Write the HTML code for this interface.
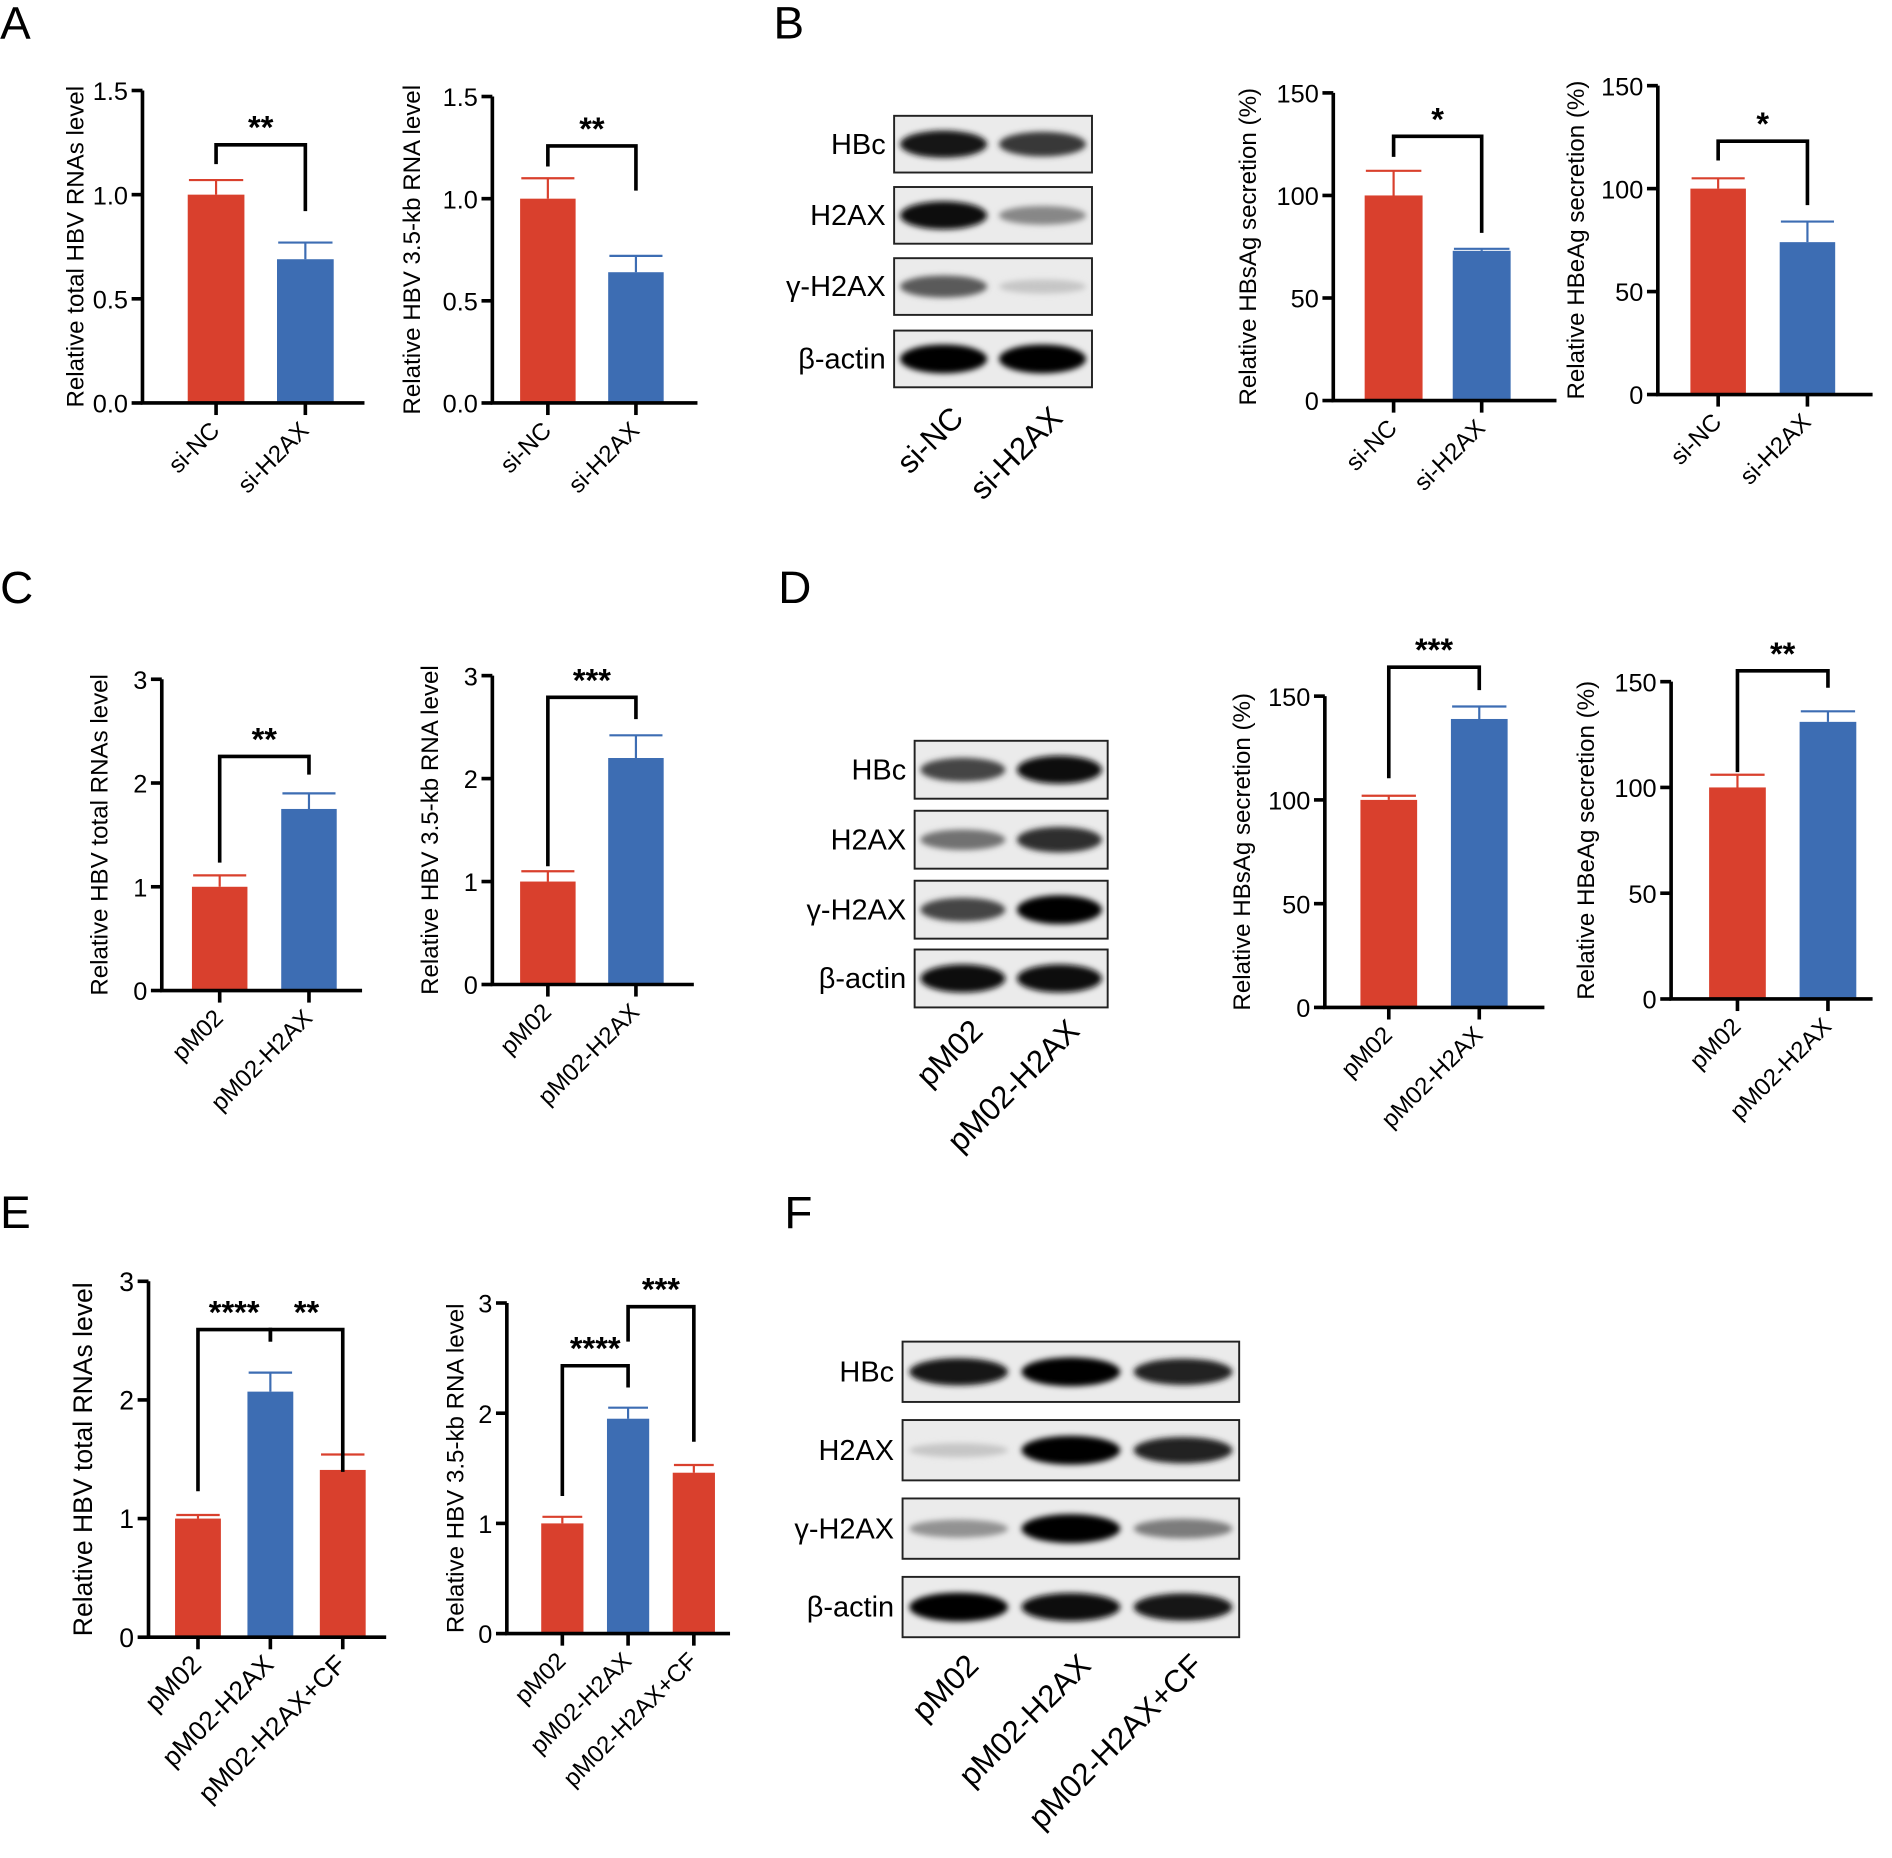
<!DOCTYPE html>
<html><head><meta charset="utf-8">
<style>
html,body{margin:0;padding:0;background:#fff;}
svg{display:block;}
text{font-family:"Liberation Sans",Arial,sans-serif;fill:#000;}
</style></head>
<body>
<svg id="fig" width="1892" height="1858" viewBox="0 0 1568 1540" xmlns="http://www.w3.org/2000/svg">
<defs>
<filter id="blur" x="-20%" y="-50%" width="140%" height="200%"><feGaussianBlur stdDeviation="2.5"/></filter>
</defs>
<g font-size="38">
<text x="0" y="32">A</text>
<text x="641" y="32">B</text>
<text x="0" y="500">C</text>
<text x="645" y="500">D</text>
<text x="0" y="1018">E</text>
<text x="650" y="1018">F</text>
</g>
</svg>
<script>
// ---- data ----
const catsSi = ["si-NC", "si-H2AX"];
const catsP = ["pM02", "pM02-H2AX"];
const catsE = ["pM02", "pM02-H2AX", "pM02-H2AX+CF"];
const valA1 = [1.0, 0.69];   const errA1 = [0.07, 0.08];
const valA2 = [1.0, 0.64];   const errA2 = [0.10, 0.08];
const valB1 = [100, 73];     const errB1 = [12, 1];
const valB2 = [100, 74];     const errB2 = [5, 10];
const valC1 = [1.0, 1.75];   const errC1 = [0.11, 0.15];
const valC2 = [1.0, 2.2];    const errC2 = [0.10, 0.22];
const valD1 = [100, 139];    const errD1 = [2, 6];
const valD2 = [100, 131];    const errD2 = [6, 5];
const valE1 = [1.0, 2.07, 1.41]; const errE1 = [0.03, 0.16, 0.13];
const valE2 = [1.0, 1.95, 1.46]; const errE2 = [0.06, 0.10, 0.07];
const ticks15 = ["0.0", "0.5", "1.0", "1.5"];
const ticks3 = ["0", "1", "2", "3"];
const ticks150 = ["0", "50", "100", "150"];
const blotRowsBA = ["HBc", "H2AX", "γ-H2AX", "β-actin"];
const bandB = [[0.9,0.75],[0.95,0.4],[0.6,0.12],[1,1]];
const bandD = [[0.7,0.95],[0.5,0.8],[0.7,1],[0.95,0.95]];
const bandF = [[0.9,1,0.85],[0.12,1,0.85],[0.35,1,0.45],[1,0.95,0.9]];

const NS = "http://www.w3.org/2000/svg";
const svg = document.getElementById("fig");
const RED = "#d9402d", BLUE = "#3d6db3";
function mk(tag, attrs, parent) {
  const e = document.createElementNS(NS, tag);
  for (const k in attrs) e.setAttribute(k, attrs[k]);
  (parent || svg).appendChild(e);
  return e;
}

function chart(o) {
  const g = mk("g", {});
  
  
  const ymax = parseFloat(o.ticks[o.ticks.length - 1]);
  const y = v => o.y0 - (v / ymax) * (o.y0 - o.yTop);
  const x = i => o.firstX + i * o.step;
  o.vals.forEach((v, i) => {
    const col = o.colors[i];
    const ey = y(v + o.errs[i]);
    const eb = mk("path", {d: `M${x(i)},${y(v)}V${ey}M${x(i)-o.bw/2+1},${ey}H${x(i)+o.bw/2-1}`, stroke: col, "stroke-width": 1.8, fill: "none"}, g);
    
    
    const r = mk("rect", {x: x(i) - o.bw/2, y: y(v), width: o.bw, height: o.y0 - y(v), fill: col}, g);
    
    
  });
  const ax = mk("path", {d: `M${o.ax},${o.yTop}V${o.y0}H${o.right}`, stroke: "#000", "stroke-width": 3, fill: "none"}, g);
  
  
  o.ticks.forEach((t) => {
    const v = parseFloat(t), yy = y(v);
    mk("line", {x1: o.ax - 9, x2: o.ax, y1: yy, y2: yy, stroke: "#000", "stroke-width": 3}, g);
    const tl = mk("text", {x: o.ax - 12, y: yy + 8, "text-anchor": "end", "font-size": o.fs || 21}, g);
    tl.textContent = t;
    
    
  });
  o.cats.forEach((c, i) => {
    mk("line", {x1: x(i), x2: x(i), y1: o.y0, y2: o.y0 + 10, stroke: "#000", "stroke-width": 3}, g);
    const tx = x(i) + 4, ty = o.y0 + 24;
    const tl = mk("text", {x: tx, y: ty, "text-anchor": "end", "font-size": o.xfs || 20, transform: `rotate(-45 ${tx} ${ty})`}, g);
    tl.textContent = c;
    
    
  });
  const tt = mk("text", {x: o.titleX, y: (o.yTop + o.y0) / 2, "text-anchor": "middle", "font-size": o.tfs || 20, transform: `rotate(-90 ${o.titleX} ${(o.yTop + o.y0) / 2})`}, g);
  tt.textContent = o.title;
  
  
  (o.sig || []).forEach(s => {
    const p = mk("path", {d: `M${x(s.a)},${s.la}V${s.y}H${x(s.b)}V${s.lb}`, stroke: "#000", "stroke-width": 3, fill: "none"}, g);
    
    
    const st = mk("text", {x: (x(s.a) + x(s.b)) / 2, y: s.y - 5, "text-anchor": "middle", "font-size": 27, "font-weight": "bold"}, g);
    st.textContent = s.t;
    
    
  });
}

chart({name:"chart-a-total-rna", ax:118, yTop:75, y0:334, right:302, firstX:179, step:74, bw:47, cats:catsSi, vals:valA1, errs:errA1, colors:[RED,BLUE], ticks:ticks15, title:"Relative total HBV RNAs level", titleX:69, sig:[{a:0,b:1,y:120,la:136,lb:175,t:"**"}]});
chart({name:"chart-a-35kb-rna", ax:408, yTop:80, y0:334, right:578, firstX:454, step:73, bw:46, cats:catsSi, vals:valA2, errs:errA2, colors:[RED,BLUE], ticks:ticks15, title:"Relative HBV 3.5-kb RNA level", titleX:348, sig:[{a:0,b:1,y:121,la:138,lb:158,t:"**"}]});
chart({name:"chart-b-hbsag", ax:1105, yTop:77, y0:332, right:1290, firstX:1155, step:73, bw:48, cats:catsSi, vals:valB1, errs:errB1, colors:[RED,BLUE], ticks:ticks150, title:"Relative HBsAg secretion (%)", titleX:1041, sig:[{a:0,b:1,y:113,la:130,lb:193,t:"*"}]});
chart({name:"chart-b-hbeag", ax:1374, yTop:71, y0:327, right:1552, firstX:1424, step:74, bw:46, cats:catsSi, vals:valB2, errs:errB2, colors:[RED,BLUE], ticks:ticks150, title:"Relative HBeAg secretion (%)", titleX:1313, sig:[{a:0,b:1,y:117,la:133,lb:170,t:"*"}]});
chart({name:"chart-c-total-rna", ax:134, yTop:563, y0:821, right:300, firstX:182, step:74, bw:46, cats:catsP, vals:valC1, errs:errC1, colors:[RED,BLUE], ticks:ticks3, title:"Relative HBV total RNAs level", titleX:89, sig:[{a:0,b:1,y:627,la:715,lb:642,t:"**"}]});
chart({name:"chart-c-35kb-rna", ax:408, yTop:560, y0:816, right:575, firstX:454, step:73, bw:46, cats:catsP, vals:valC2, errs:errC2, colors:[RED,BLUE], ticks:ticks3, title:"Relative HBV 3.5-kb RNA level", titleX:363, sig:[{a:0,b:1,y:578,la:718,lb:596,t:"***"}]});
chart({name:"chart-d-hbsag", ax:1098, yTop:577, y0:835, right:1280, firstX:1151, step:75, bw:47, cats:catsP, vals:valD1, errs:errD1, colors:[RED,BLUE], ticks:ticks150, title:"Relative HBsAg secretion (%)", titleX:1036, sig:[{a:0,b:1,y:553,la:645,lb:572,t:"***"}]});
chart({name:"chart-d-hbeag", ax:1385, yTop:565, y0:828, right:1552, firstX:1440, step:75, bw:47, cats:catsP, vals:valD2, errs:errD2, colors:[RED,BLUE], ticks:ticks150, title:"Relative HBeAg secretion (%)", titleX:1321, sig:[{a:0,b:1,y:556,la:640,lb:570,t:"**"}]});
chart({name:"chart-e-total-rna", ax:123, yTop:1062, y0:1357, right:320, firstX:164, step:60, bw:38, cats:catsE, vals:valE1, errs:errE1, colors:[RED,BLUE,RED], ticks:ticks3, title:"Relative HBV total RNAs level", titleX:76, tfs:22, fs:22, xfs:22, sig:[{a:0,b:1,y:1102,la:1236,lb:1112,t:"****"},{a:1,b:2,y:1102,la:1112,lb:1220,t:"**"}]});
chart({name:"chart-e-35kb-rna", ax:420, yTop:1080, y0:1354, right:605, firstX:466, step:54.5, bw:35, cats:catsE, vals:valE2, errs:errE2, colors:[RED,BLUE,RED], ticks:ticks3, title:"Relative HBV 3.5-kb RNA level", titleX:384, sig:[{a:0,b:1,y:1132,la:1240,lb:1150,t:"****"},{a:1,b:2,y:1083,la:1112,lb:1195,t:"***"}]});

function blot(o) {
  const g = mk("g", {});
  
  
  const w = o.x1 - o.x0, nl = o.lanes.length, lw = w / nl;
  o.rows.forEach((row, r) => {
    const top = o.tops[r], h = o.h;
    const box = mk("rect", {x: o.x0, y: top, width: w, height: h, fill: "#ebebeb", stroke: "#222", "stroke-width": 1.6}, g);
    
    
    o.bands[r].forEach((v, l) => {
      const c = Math.round(225 - v * 225);
      const b = mk("ellipse", {cx: o.x0 + lw * (l + 0.5), cy: top + h / 2, rx: lw * 0.44, ry: 5 + v * 7, fill: `rgb(${c},${c},${c})`, filter: "url(#blur)"}, g);
      
      
    });
    const t = mk("text", {x: o.x0 - 7, y: top + h / 2 + 8, "text-anchor": "end", "font-size": 24}, g);
    t.textContent = row;
    
    
  });
  o.lanes.forEach((ln, l) => {
    const tx = o.x0 + lw * (l + 0.5) + 18, ty = o.labY;
    const t = mk("text", {x: tx, y: ty, "text-anchor": "end", "font-size": 26, transform: `rotate(-45 ${tx} ${ty})`}, g);
    t.textContent = ln;
    
    
  });
}
blot({name:"blot-b", x0:741, x1:905, h:47, tops:[96,155,214,274], rows:blotRowsBA, bands:bandB, lanes:catsSi, labY:348});
blot({name:"blot-d", x0:758, x1:918, h:48, tops:[614,672,730,787], rows:blotRowsBA, bands:bandD, lanes:catsP, labY:856});
blot({name:"blot-f", x0:748, x1:1027, h:50, tops:[1112,1177,1242,1307], rows:blotRowsBA, bands:bandF, lanes:catsE, labY:1382});
</script>
</body></html>
